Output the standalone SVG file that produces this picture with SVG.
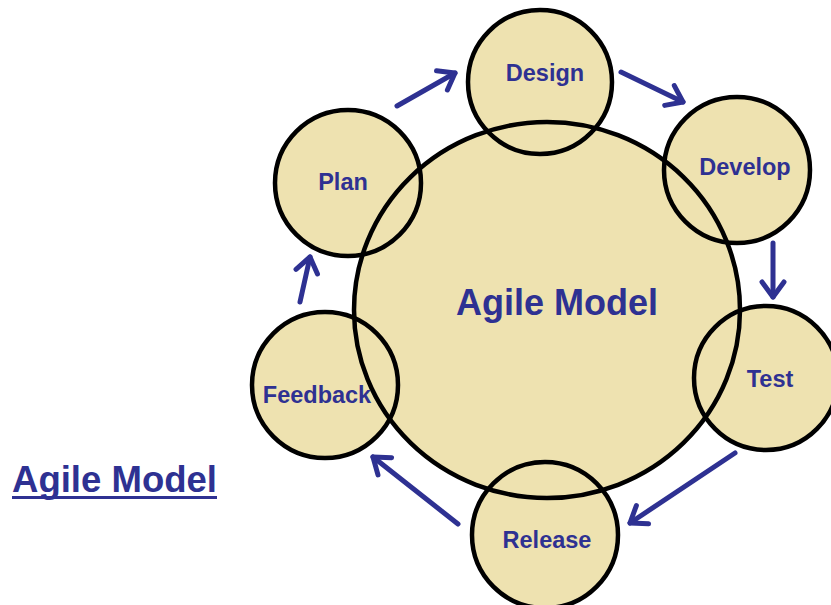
<svg xmlns="http://www.w3.org/2000/svg" width="831" height="605" viewBox="0 0 831 605">
<defs>
<style>
.fill{fill:#EEE2B0;stroke:none}
.ring{fill:none;stroke:#000;stroke-width:4.5}
.lbl{font-family:"Liberation Sans",Arial,sans-serif;font-weight:bold;fill:#2E3192;text-anchor:middle}
.small{font-size:23.5px}
.big{font-size:36px}
.arr{stroke:#2E3192;stroke-width:5;stroke-linecap:round;fill:none;marker-end:url(#ah)}
</style>
<marker id="ah" markerUnits="userSpaceOnUse" markerWidth="30" markerHeight="30" viewBox="-20 -15 30 30" refX="0" refY="0" orient="auto">
<path d="M-15,-11 L0,0 L-15,11" fill="none" stroke="#2E3192" stroke-width="5" stroke-linecap="round" stroke-linejoin="round"/>
</marker>
</defs>
<rect width="831" height="605" fill="#fff"/>
<g id="fills">
<ellipse class="fill" cx="547" cy="310" rx="193" ry="188"/>
<circle class="fill" cx="540" cy="82" r="72"/>
<circle class="fill" cx="737" cy="170" r="73"/>
<circle class="fill" cx="766" cy="378" r="72"/>
<circle class="fill" cx="545" cy="535" r="73"/>
<circle class="fill" cx="325" cy="385" r="73"/>
<circle class="fill" cx="348" cy="183" r="73"/>
</g>
<g id="agile-model">
<ellipse class="ring" cx="547" cy="310" rx="193" ry="188"/>
<text class="lbl big" x="557" y="315">Agile Model</text>
</g>
<g id="design">
<circle class="ring" cx="540" cy="82" r="72"/>
<text class="lbl small" x="545" y="81">Design</text>
</g>
<g id="develop">
<circle class="ring" cx="737" cy="170" r="73"/>
<text class="lbl small" x="745" y="175">Develop</text>
</g>
<g id="test">
<circle class="ring" cx="766" cy="378" r="72"/>
<text class="lbl small" x="770" y="387">Test</text>
</g>
<g id="release">
<circle class="ring" cx="545" cy="535" r="73"/>
<text class="lbl small" x="547" y="548">Release</text>
</g>
<g id="feedback">
<circle class="ring" cx="325" cy="385" r="73"/>
<text class="lbl small" x="317" y="403">Feedback</text>
</g>
<g id="plan">
<circle class="ring" cx="348" cy="183" r="73"/>
<text class="lbl small" x="343" y="190">Plan</text>
</g>
<g id="connectors">
<line class="arr" x1="397" y1="106" x2="455" y2="73"/>
<line class="arr" x1="621" y1="72" x2="683" y2="102"/>
<line class="arr" x1="773" y1="243" x2="773" y2="297"/>
<line class="arr" x1="735" y1="453" x2="630" y2="523"/>
<line class="arr" x1="458" y1="524" x2="373" y2="457"/>
<line class="arr" x1="300" y1="302" x2="310" y2="257"/>
</g>
<g id="title">
<text class="lbl big" x="12" y="492" style="text-anchor:start" textLength="205" lengthAdjust="spacingAndGlyphs">Agile Model</text>
<rect x="12" y="496" width="205" height="3" fill="#2E3192"/>
</g>
</svg>
